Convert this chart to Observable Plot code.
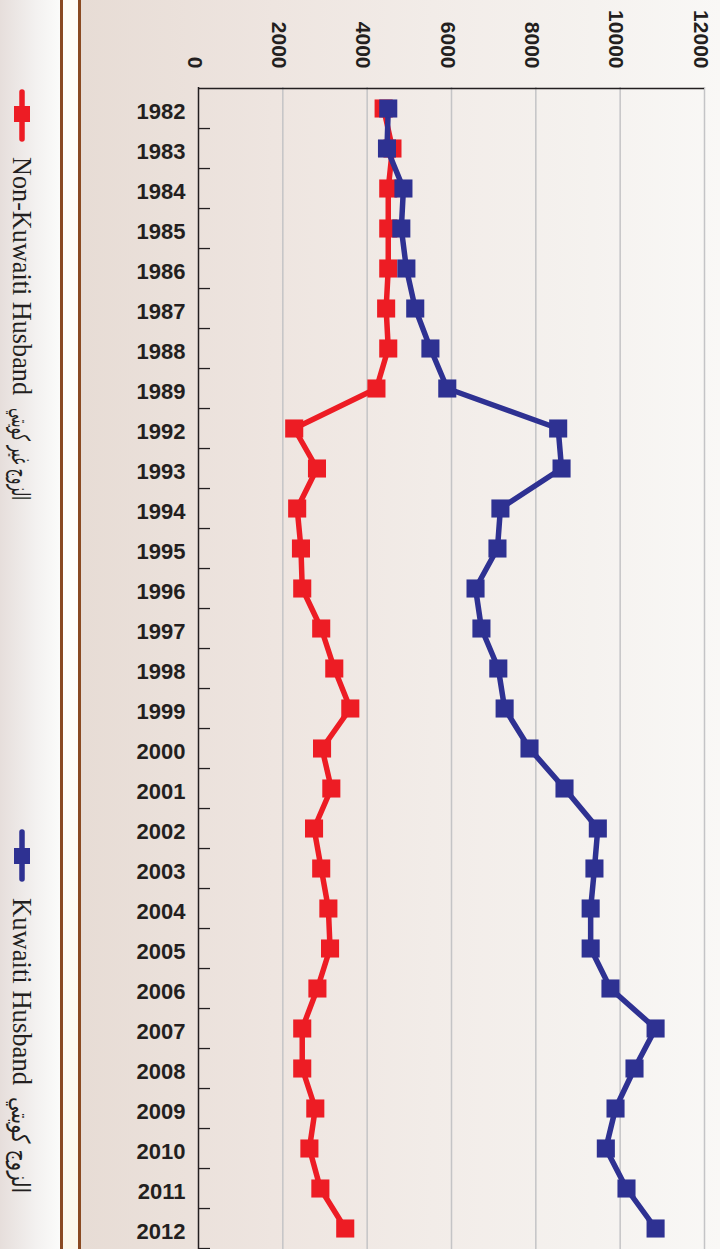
<!DOCTYPE html>
<html>
<head>
<meta charset="utf-8">
<script src="https://cdn.jsdelivr.net/npm/d3@7"></script>
<script src="https://cdn.jsdelivr.net/npm/@observablehq/plot@0.6"></script>
<style>
  body { margin: 0; background: #ffffff; }
  #wrap { position: relative; width: 720px; height: 1249px; overflow: hidden; }
  .layer { position: absolute; top: 0; height: 1249px; }
  #legendBg { left: 0; width: 60px; background: linear-gradient(to right, #e6dedb, #f3f1f0 60%, #fbfbfa); }
  #brown1 { left: 60px; width: 3px; background: #8a4a22; }
  #cream { left: 63px; width: 15px; background: linear-gradient(to bottom, #fffdf7, #fffefb 50%, #fcf8ec); }
  #brown2 { left: 78px; width: 3px; background: #8a4a22; }
  #chartBg { left: 81px; width: 639px; background: linear-gradient(to right, #e7dcd5, #eee5e0 30%, #f2ece8 55%, #f5f2ef 80%, #f9f8f6); }
  #chart { position: absolute; left: 81px; top: 0; }
  #legend { position: absolute; left: 0; top: 0; }
  #chart text.lbl { letter-spacing: 2px; }
</style>
</head>
<body>
<div id="wrap">
  <div class="layer" id="legendBg"></div>
  <div class="layer" id="brown1"></div>
  <div class="layer" id="cream"></div>
  <div class="layer" id="brown2"></div>
  <div class="layer" id="chartBg"></div>
  <div id="chart"></div>
  <svg id="legend" width="60" height="1249"></svg>
</div>
<script>
// ---- data ----
const years = ["1982","1983","1984","1985","1986","1987","1988","1989",
  "1992","1993","1994","1995","1996","1997","1998","1999",
  "2000","2001","2002","2003","2004","2005","2006",
  "2007","2008","2009","2010","2011","2012"];
const nonKuwaiti = [4390,4600,4500,4500,4500,4450,4500,4220,
  2270,2810,2340,2430,2460,2910,3220,3600,
  2930,3150,2740,2910,3080,3120,2820,
  2460,2460,2770,2630,2890,3480];
const kuwaiti = [4500,4470,4860,4810,4930,5140,5500,5900,
  8530,8610,7160,7090,6570,6710,7110,7260,
  7850,8680,9470,9390,9300,9300,9770,
  10840,10340,9890,9660,10150,10840];
const xTicks = [0,2000,4000,6000,8000,10000,12000];
const seriesNames = ["Non-Kuwaiti Husband","Kuwaiti Husband"];
const seriesArabic = ["الزوج غير كويتي","الزوج كويتي"];
const seriesColors = ["#ED1C24","#2E3192"];

// ---- build ----
const redData = years.map((y,i)=>({year:y, value:nonKuwaiti[i]}));
const blueData = years.map((y,i)=>({year:y, value:kuwaiti[i]}));
const ink = "#231f20";
const font = "'Liberation Sans', Arial, sans-serif";
const H = 1249, mTop = 87;
const step = (H - mTop) / years.length;

const chart = Plot.plot({
  width: 639, height: H,
  marginLeft: 117, marginRight: 16, marginTop: mTop, marginBottom: 0,
  style: {background: "transparent", overflow: "visible"},
  x: {domain: [0, 12000], axis: null},
  y: {type: "point", domain: years, padding: 0.5, axis: null},
  marks: [
    Plot.ruleX(xTicks.slice(1), {stroke: "#c4c4c6", strokeWidth: 1.5}),
    Plot.ruleX(xTicks, {y1: years[0], y2: years[0], insetTop: -step/2, insetBottom: -8, stroke: ink, strokeWidth: 1.5}),
    Plot.ruleY([years[0]], {dy: -step/2, x1: 0, x2: 12000, stroke: ink, strokeWidth: 1.5}),
    Plot.ruleX([0], {stroke: ink, strokeWidth: 1.5}),
    Plot.ruleY(years, {dy: step/2, x1: 0, x2: 0, insetRight: -12, stroke: ink, strokeWidth: 1.3}),
    Plot.text(years, {y: d => d, frameAnchor: "left", textAnchor: "end", dx: -13, dy: 3,
      fontSize: 22, fontWeight: "bold", fontFamily: font, fill: ink, className: "lbl"}),
    Plot.text(xTicks, {x: d => d, text: d => String(d), frameAnchor: "top", rotate: 90, textAnchor: "end", dx: 4, dy: -19,
      fontSize: 21, fontWeight: "bold", fontFamily: font, fill: ink, className: "lbl"}),
    Plot.line(redData, {x: "value", y: "year", stroke: seriesColors[0], strokeWidth: 5.5, curve: "linear"}),
    Plot.dot(redData, {x: "value", y: "year", symbol: "square", r: 10.2, fill: seriesColors[0], stroke: "none"}),
    Plot.line(blueData, {x: "value", y: "year", stroke: seriesColors[1], strokeWidth: 5.5, curve: "linear"}),
    Plot.dot(blueData, {x: "value", y: "year", symbol: "square", r: 10.2, fill: seriesColors[1], stroke: "none"})
  ]
});
document.getElementById("chart").appendChild(chart);

// ---- legend (rotated) ----
const leg = d3.select("#legend");
const legendItems = [
  {lineY: [92, 139], sqY: 106, textY: 157, textLen: 238, arY: 408, arLen: 92},
  {lineY: [832, 879], sqY: 848, textY: 898, textLen: 187, arY: 1097, arLen: 96}
];
legendItems.forEach((it, i) => {
  leg.append("line").attr("x1", 22).attr("x2", 22).attr("y1", it.lineY[0]).attr("y2", it.lineY[1])
    .attr("stroke", seriesColors[i]).attr("stroke-width", 5.5).attr("stroke-linecap", "round");
  leg.append("rect").attr("x", 14).attr("y", it.sqY).attr("width", 16).attr("height", 16)
    .attr("fill", seriesColors[i]);
  leg.append("text").attr("transform", `translate(13,${it.textY}) rotate(90)`)
    .attr("font-family", "'Liberation Serif', 'Times New Roman', serif").attr("font-size", 28)
    .attr("fill", ink).attr("textLength", it.textLen).attr("lengthAdjust", "spacingAndGlyphs")
    .text(seriesNames[i]);
  leg.append("text").attr("transform", `translate(12,${it.arY}) rotate(90)`)
    .attr("font-family", "'DejaVu Sans', 'Noto Sans', sans-serif").attr("font-size", 25)
    .attr("fill", ink).attr("textLength", it.arLen).attr("lengthAdjust", "spacingAndGlyphs")
    .text(seriesArabic[i]);
});
</script>
</body>
</html>
